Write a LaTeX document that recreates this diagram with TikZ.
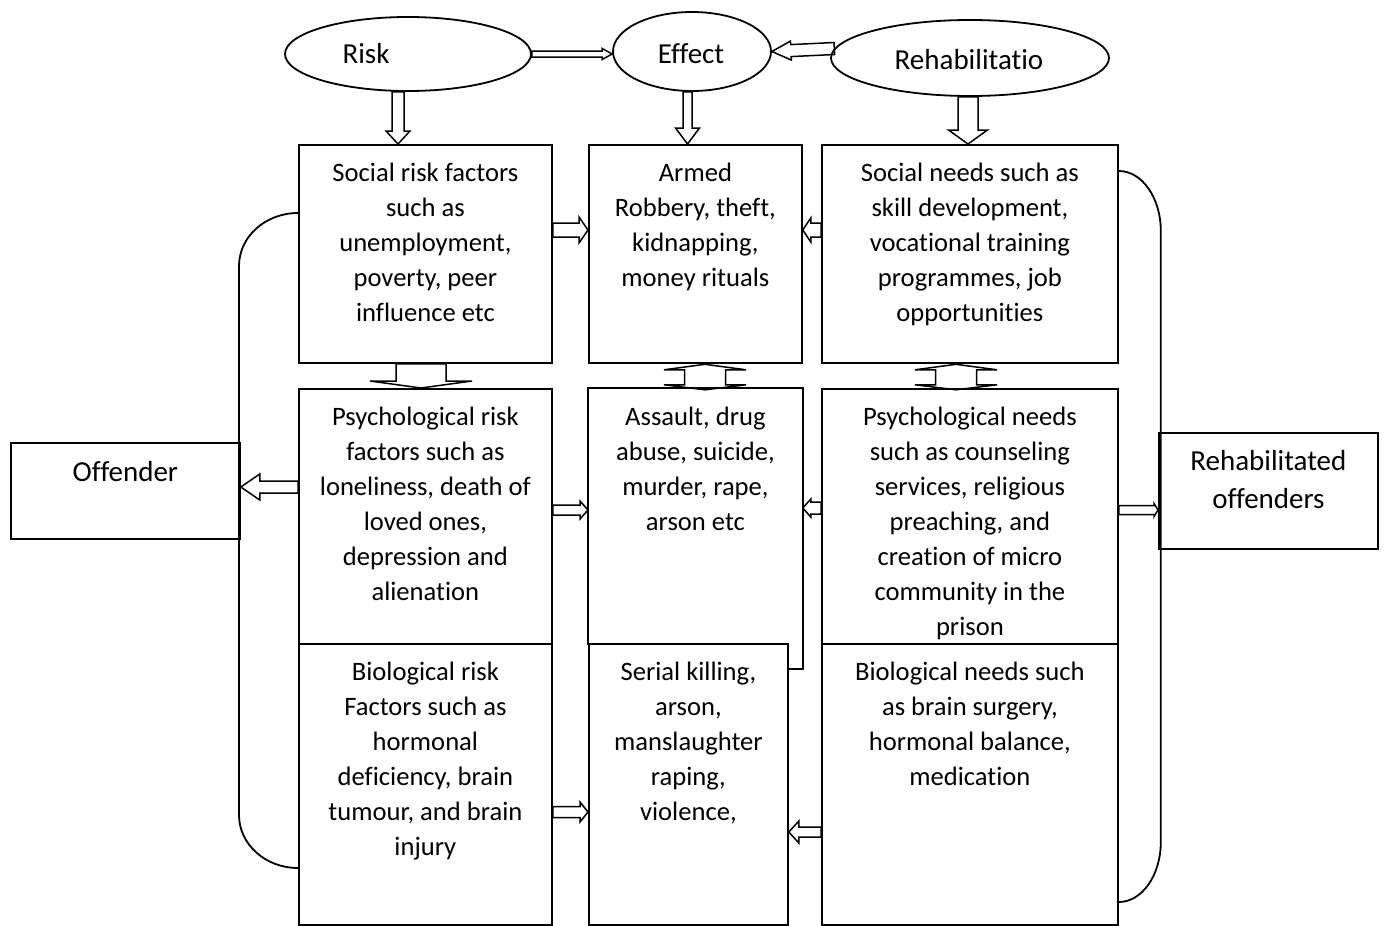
\documentclass[tikz,border=0pt]{standalone}
\usepackage{fontspec}
\setmainfont{Carlito}[RawFeature={-liga;-clig;-calt;-dlig}]
\usetikzlibrary{calc,shapes.geometric}

% cell content: width, height, first-baseline drop, lines
\newcommand\cellbox[4]{\parbox[t][#2][t]{#1}{\centering\rule{0pt}{#3}#4}}

% hollow block arrow: tail, tip, shaft half-width, head half-width, head length
\newcommand\blockarrow[5]{%
  \coordinate (ba-base) at ($(#2)!#5!(#1)$);
  \draw[blockarrow] ($(#1)!#3!90:(#2)$) -- ($(ba-base)!#3!90:(#2)$)
    -- ($(ba-base)!#4!90:(#2)$) -- (#2) -- ($(ba-base)!#4!-90:(#2)$)
    -- ($(ba-base)!#3!-90:(#2)$) -- ($(#1)!#3!-90:(#2)$) -- cycle;}

% hollow double-headed vertical arrow around a centre point
\newcommand\dblvarrow[1]{%
  \draw[blockarrow] ($(#1)+(0,-12.5)$) -- ++(41,5.5) -- ++(-20.5,0) -- ++(0,15)
    -- ++(20.5,0) -- ++(-41,5) -- ++(-41,-5) -- ++(20.5,0) -- ++(0,-15)
    -- ++(-20.5,0) -- cycle;}

\begin{document}
\begin{tikzpicture}[x=1pt,y=-1pt,line width=1.8pt,
  cell/.style={draw, rectangle, inner sep=0pt, anchor=north west,
    font=\fontsize{26.6}{35}\selectfont},
  sidecell/.style={draw, rectangle, inner sep=0pt, anchor=north west,
    font=\fontsize{29}{38}\selectfont},
  oval/.style={draw, ellipse, inner sep=0pt},
  ovaltext/.style={inner sep=0pt, font=\fontsize{29}{35}\selectfont},
  blockarrow/.style={draw, line width=1.5pt, line join=miter},
  loop/.style={draw, line width=1.8pt}]

\useasboundingbox (0,0) rectangle (1384,926);

% headings
\node[oval, minimum width=246, minimum height=74] (risk) at (408,54) {};
\node[oval, minimum width=158, minimum height=79] (effect) at (692,51.5) {};
\node[oval, minimum width=278, minimum height=76] (rehab) at (970,58) {};
\node[ovaltext] (risk-t) at (366,53.5) {Risk};
\node[ovaltext] (effect-t) at (691,53.5) {Effect};
\node[ovaltext] (rehab-t) at (969,60) {Rehabilitatio};

% first row
\node[cell] (s1) at (298,144) {\cellbox{253pt}{218pt}{37pt}{Social risk factors\\ such as\\ unemployment,\\ poverty, peer\\ influence etc}};
\node[cell] (m1) at (588,144) {\cellbox{213pt}{218pt}{37pt}{Armed\\ Robbery, theft,\\ kidnapping,\\ money rituals}};
\node[cell] (r1) at (821,144) {\cellbox{296pt}{218pt}{37pt}{Social needs such as\\ skill development,\\ vocational training\\ programmes, job\\ opportunities}};

% second row
\node[cell] (s2) at (298,388) {\cellbox{253pt}{255pt}{37pt}{Psychological risk\\ factors such as\\ loneliness, death of\\ loved ones,\\ depression and\\ alienation}};
\node[cell, draw=none] (m2) at (588,388) {\cellbox{213pt}{255pt}{37pt}{Assault, drug\\ abuse, suicide,\\ murder, rape,\\ arson etc}};
\node[cell] (r2) at (821,388) {\cellbox{296pt}{255pt}{37pt}{Psychological needs\\ such as counseling\\ services, religious\\ preaching, and\\ creation of micro\\ community in the\\ prison}};

% third row
\node[cell] (s3) at (298,643) {\cellbox{253pt}{281pt}{37pt}{Biological risk\\ Factors such as\\ hormonal\\ deficiency, brain\\ tumour, and brain\\ injury}};
\node[cell] (m3) at (588,643) {\cellbox{199pt}{281pt}{37pt}{Serial killing,\\ arson,\\ manslaughter\\ raping,\\ violence,}};
\node[cell] (r3) at (821,643) {\cellbox{296pt}{281pt}{37pt}{Biological needs such\\ as brain surgery,\\ hormonal balance,\\ medication}};

% outline of the second effect cell
\coordinate (m2jog) at ($(m2.south east)+(0,24)$);
\draw (m2.south west) |- (m2.north east) -- (m2jog) -- (m3.east |- m2jog);

% outcomes
\node[sidecell] (off) at (10,442) {\cellbox{229pt}{96pt}{39pt}{Offender}};
\node[sidecell] (reh) at (1158,432) {\cellbox{219pt}{116pt}{38pt}{Rehabilitated\\ offenders}};

% arrows between headings
\coordinate (a1h) at (effect.west |- risk.east);
\blockarrow{risk.east}{a1h}{3pt}{5.5pt}{10pt}
\blockarrow{rehab.176}{effect.east}{6pt}{9.5pt}{19pt}

% arrows from headings down to the first row
\coordinate (a3h) at ($(s1.north west)+(100,0)$);
\coordinate (a3t) at (a3h |- risk.south);
\blockarrow{a3t}{a3h}{6pt}{12pt}{13pt}
\coordinate (a4h) at ($(m1.north west)+(99.5,0)$);
\coordinate (a4t) at (a4h |- effect.south);
\blockarrow{a4t}{a4h}{4.5pt}{12pt}{16pt}
\coordinate (a5h) at ($(r1.north west)+(147,0)$);
\coordinate (a5t) at (a5h |- rehab.south);
\blockarrow{a5t}{a5h}{10pt}{19.5pt}{14pt}

% arrows into the effect column
\coordinate (a6t) at ($(s1.north east)+(0,86)$);
\coordinate (a6h) at (m1.west |- a6t);
\blockarrow{a6t}{a6h}{7pt}{13pt}{9pt}
\coordinate (a7t) at ($(r1.north west)+(0,86)$);
\coordinate (a7h) at (m1.east |- a7t);
\blockarrow{a7t}{a7h}{7pt}{12pt}{8pt}
\coordinate (a8t) at ($(s2.north east)+(0,122)$);
\coordinate (a8h) at (m2.west |- a8t);
\blockarrow{a8t}{a8h}{5pt}{9pt}{8pt}
\coordinate (a9t) at ($(r2.north west)+(0,120)$);
\coordinate (a9h) at (m2.east |- a9t);
\blockarrow{a9t}{a9h}{6pt}{9pt}{8pt}
\coordinate (a10t) at ($(s3.north east)+(0,169)$);
\coordinate (a10h) at (m3.west |- a10t);
\blockarrow{a10t}{a10h}{5.5pt}{10pt}{8pt}
\coordinate (a11t) at ($(r3.north west)+(0,189)$);
\coordinate (a11h) at (m3.east |- a11t);
\blockarrow{a11t}{a11h}{5pt}{11pt}{10pt}

% arrows to the outcomes
\coordinate (a12t) at ($(s2.north west)+(0,99)$);
\coordinate (a12h) at (off.east |- a12t);
\blockarrow{a12t}{a12h}{6pt}{13pt}{19pt}
\coordinate (a13t) at ($(r2.north east)+(0,122)$);
\coordinate (a13h) at (reh.west |- a13t);
\blockarrow{a13t}{a13h}{4.5pt}{6.5pt}{4pt}

% arrows between the first and second rows
\coordinate (a14t) at ($(s1.south west)+(123,0)$);
\coordinate (a14h) at (a14t |- s2.north);
\blockarrow{a14t}{a14h}{25pt}{51pt}{7pt}
\coordinate (c2) at ($(m1.south west)+(117,13)$);
\dblvarrow{c2}
\coordinate (c3) at ($(r1.south west)+(135,13)$);
\dblvarrow{c3}

% side brackets
\draw[loop] ($(s1.north west)+(0,69)$) arc[start angle=270, end angle=180, x radius=59, y radius=53]
  -- ($(s3.north west)+(-59,172)$) arc[start angle=180, end angle=90, x radius=59, y radius=53];
\draw[loop] ($(r1.north east)+(0,27)$) arc[start angle=270, end angle=360, x radius=42, y radius=60]
  -- ($(r3.north east)+(42,199)$) arc[start angle=0, end angle=90, x radius=42, y radius=60];
\end{tikzpicture}
\end{document}
